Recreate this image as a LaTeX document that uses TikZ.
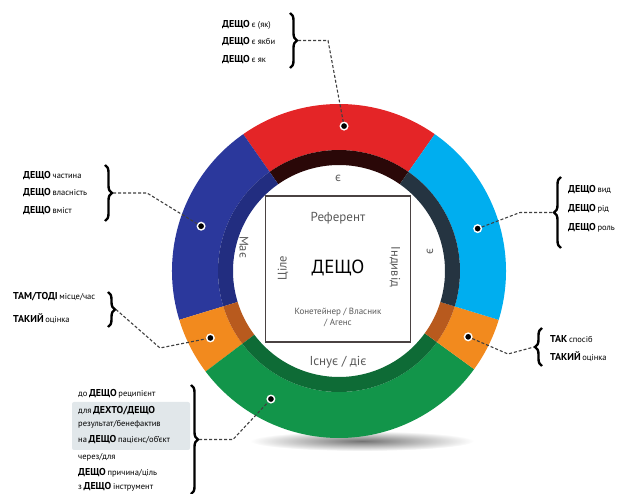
\documentclass[tikz,border=0pt]{standalone}
\usepackage{fontspec}
\setmainfont{PT Sans}
\usepackage{xcolor}
\usetikzlibrary{calc,decorations.pathreplacing}

\definecolor{ringred}{HTML}{E42527}
\definecolor{ringblue}{HTML}{2B389C}
\definecolor{ringcyan}{HTML}{00AEEF}
\definecolor{ringorange}{HTML}{F28A1E}
\definecolor{ringgreen}{HTML}{12954A}
\definecolor{redin}{HTML}{2A0808}
\definecolor{bluein}{HTML}{222D80}
\definecolor{cyanin}{HTML}{253441}
\definecolor{orangein}{HTML}{B85A1E}
\definecolor{greenin}{HTML}{0E6B36}
\definecolor{boxgray}{HTML}{4A4242}
\definecolor{softgray}{HTML}{E1E7EA}

\newcommand{\lblsmall}{\fontsize{8.5}{10}\selectfont}
\newcommand{\kw}[2]{{\bfseries #1}\,{\lblsmall #2}}

\tikzset{
  ringdot/.style={circle, fill=black, draw=white, line width=1.4pt, inner sep=0pt, minimum size=7.5pt},
  leader/.style={densely dashed, line width=1.1pt, draw=black!75},
  curly/.style={decorate, decoration={brace, amplitude=7pt}, line width=2.4pt},
  lbl/.style={anchor=west, inner sep=0pt, font=\fontsize{10}{11}\selectfont},
  centertext/.style={text=black!65, inner sep=0pt}
}

\begin{document}
\begin{tikzpicture}[x=1pt, y=-1pt]
    \useasboundingbox (0,0) rectangle (622,494);

    % Shadow under the ring
    \shade[inner color=black!55, outer color=white] (362,441) ellipse (112 and 10);

    % Ring segments with their darker inner band
    \begin{scope}[shift={(339,271)}]
        \foreach \a/\b/\c/\d in {55/125/ringred/redin, 125/197/ringblue/bluein,
            197/217/ringorange/orangein, 217/324/ringgreen/greenin,
            324/343/ringorange/orangein, 343/415/ringcyan/cyanin} {
            \fill[\c] (\a:167pt) arc[start angle=\a, end angle=\b, radius=167pt]
                -- (\b:121pt) arc[start angle=\b, end angle=\a, radius=121pt] -- cycle;
            \fill[\d] (\a:121pt) arc[start angle=\a, end angle=\b, radius=121pt]
                -- (\b:106pt) arc[start angle=\b, end angle=\a, radius=106pt] -- cycle;
        }

        % Dots on the segments
        \node[ringdot] (redDot) at (88:145pt) {};
        \node[ringdot] (blueDot) at (162:145pt) {};
        \node[ringdot] (cyanDot) at (17:145pt) {};
        \node[ringdot] (orangeLDot) at (207.5:145pt) {};
        \node[ringdot] (orangeRDot) at (333:145pt) {};
        \node[ringdot] (greenDot) at (242:145pt) {};
    \end{scope}

    % Central box
    \node[draw=boxgray, line width=1.3pt, minimum width=145pt, minimum height=146pt] (refBox) at (338,269) {};
    \node[centertext, font=\fontsize{13}{15}\selectfont] (referent) at (338,218) {Референт};
    \node[inner sep=0pt, font=\fontsize{19}{22}\selectfont] (deshcho) at (338,268) {ДЕЩО};
    \node[centertext, rotate=90, font=\fontsize{12.5}{14}\selectfont] (whole) at (283,268) {Ціле};
    \node[centertext, rotate=-90, font=\fontsize{12.5}{14}\selectfont] (indiv) at (395,267) {Індивід};
    \node[centertext, font=\fontsize{9}{11}\selectfont, align=center] (agens) at (338,317) {Конетейнер / Власник\\/ Агенс};

    % Words between box and ring
    \node[centertext, font=\fontsize{12.5}{14}\selectfont] (isTop) at (338,178) {є};
    \node[centertext, rotate=90, font=\fontsize{12.5}{14}\selectfont] (isRight) at (430,252) {є};
    \node[centertext, rotate=-90, font=\fontsize{12.5}{14}\selectfont] (has) at (244,247) {Має};
    \node[centertext, font=\fontsize{13}{15}\selectfont] (exists) at (338,362) {Існує / діє};

    % Top labels (red)
    \foreach \y/\b [count=\i] in {25/{є (як)}, 42/{є якби}, 60/{є як}} {
        \node[lbl] (top\i) at (222,\y) {\kw{ДЕЩО}{\b}};
    }
    \draw[curly] (290,13) -- (290,68);
    \coordinate (topTip) at (298,40.5);
    \coordinate (topBend) at (328,40.5);
    \draw[leader] (topTip) -- (topBend) -- (redDot);

    % Left labels (blue)
    \foreach \y/\b [count=\i] in {176/частина, 193/власність, 211/вміст} {
        \node[lbl] (blue\i) at (23,\y) {\kw{ДЕЩО}{\b}};
    }
    \draw[curly] (105,165) -- (105,221);
    \coordinate (blueTip) at (113,193);
    \coordinate (blueBend) at (147,193);
    \draw[leader] (blueTip) -- (blueBend) -- (blueDot);

    % Left labels (orange)
    \node[lbl] (orangeL1) at (13,297) {\kw{ТАМ/ТОДІ}{місце/час}};
    \node[lbl] (orangeL2) at (13,319) {\kw{ТАКИЙ}{оцінка}};
    \draw[curly] (108,292) -- (108,327);
    \coordinate (orangeLTip) at (116,309.5);
    \coordinate (orangeLBend) at (160,348);
    \draw[leader] (orangeLTip) -- (orangeLBend) -- (orangeLDot);

    % Right labels (cyan)
    \foreach \y/\b [count=\i] in {190/вид, 209/рід, 228/роль} {
        \node[lbl] (cyan\i) at (568,\y) {\kw{ДЕЩО}{\b}};
    }
    \draw[curly] (561,248) -- (561,177);
    \coordinate (cyanTip) at (553,212.5);
    \coordinate (cyanBend) at (520,212.5);
    \draw[leader] (cyanDot) -- (cyanBend) -- (cyanTip);

    % Right labels (orange)
    \node[lbl] (orangeR1) at (550,339) {\kw{ТАК}{спосіб}};
    \node[lbl] (orangeR2) at (550,357) {\kw{ТАКИЙ}{оцінка}};
    \draw[curly] (542,366) -- (542,328);
    \coordinate (orangeRTip) at (534,347);
    \coordinate (orangeRBend) at (508,354);
    \draw[leader] (orangeRDot) -- (orangeRBend) -- (orangeRTip);

    % Bottom labels (green)
    \fill[softgray, rounded corners=2pt] (72,402) rectangle (190,450);
    \node[lbl] (green1) at (78,394) {{\lblsmall до}\,\kw{ДЕЩО}{реципієнт}};
    \node[lbl] (green2) at (78,411) {{\lblsmall для}\,{\bfseries ДЕХТО/ДЕЩО}};
    \node[lbl] (green3) at (78,424) {\lblsmall результат/бенефактив};
    \node[lbl] (green4) at (78,440) {{\lblsmall на}\,\kw{ДЕЩО}{пацієнс/об’єкт}};
    \node[lbl] (green5) at (78,457) {\lblsmall через/для};
    \node[lbl] (green6) at (78,473) {\kw{ДЕЩО}{причина/ціль}};
    \node[lbl] (green7) at (78,487) {{\lblsmall з}\,\kw{ДЕЩО}{інструмент}};
    \draw[curly] (191,385) -- (191,494);
    \coordinate (greenTip) at (199,439.5);
    \coordinate (greenBend) at (233,439.5);
    \draw[leader] (greenTip) -- (greenBend) -- (greenDot);
\end{tikzpicture}
\end{document}
